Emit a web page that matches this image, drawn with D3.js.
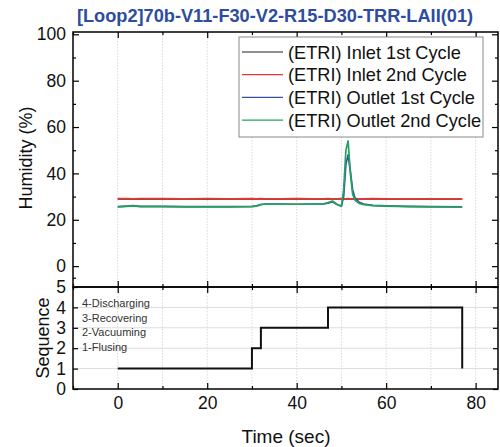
<!DOCTYPE html>
<html>
<head>
<meta charset="utf-8">
<script src="https://cdn.jsdelivr.net/npm/d3@7"></script>
<style>
  body { margin: 0; background: #fff; }
  svg { display: block; font-family: "Liberation Sans", Arial, sans-serif; }
</style>
</head>
<body>
<div class="chart"></div>
<script>
// ---- data ----
const time = [0, 2, 3.5, 5, 10, 15, 20, 25, 30, 31, 32, 33, 36, 40, 44, 46, 47, 48, 49, 50, 50.5, 51, 51.5, 52, 52.5, 53, 54, 55, 57, 60, 65, 70, 77];
const inlet1 = [29.0, 29.0, 29.0, 29.0, 29.0, 29.0, 29.0, 29.0, 29.0, 29.0, 29.0, 29.0, 29.0, 29.0, 29.0, 29.0, 29.0, 29.0, 29.0, 29.0, 29.0, 29.0, 29.0, 29.0, 29.0, 29.0, 29.0, 29.0, 29.0, 29.0, 29.0, 29.0, 29.0];
const inlet2 = [29.1, 29.1, 29.0, 29.1, 29.1, 29.0, 29.1, 29.0, 29.1, 29.0, 29.1, 29.0, 29.0, 29.1, 29.0, 29.0, 29.1, 29.0, 29.0, 29.1, 29.0, 29.0, 29.1, 29.0, 29.0, 29.1, 29.0, 29.0, 29.1, 29.0, 29.0, 29.0, 29.0];
const outlet1 = [25.7, 25.9, 26.1, 25.8, 25.8, 25.7, 25.7, 25.7, 25.8, 26.0, 26.6, 26.8, 26.8, 26.7, 26.8, 26.8, 27.2, 27.8, 26.6, 25.9, 30.0, 44.0, 48.0, 41.0, 33.0, 29.5, 27.5, 26.8, 26.2, 26.0, 25.8, 25.7, 25.6];
const outlet2 = [25.6, 25.8, 26.0, 25.7, 25.7, 25.6, 25.6, 25.6, 25.7, 25.9, 26.5, 26.8, 26.7, 26.7, 26.8, 26.9, 27.4, 28.1, 26.7, 25.8, 33.0, 50.0, 54.0, 40.0, 31.0, 28.5, 27.0, 26.5, 26.1, 25.9, 25.7, 25.6, 25.5];

const seqTime = [0, 30, 30, 32, 32, 47, 47, 77, 77];
const seqValue = [1, 1, 2, 2, 3, 3, 4, 4, 1];
const seqNames = ['4-Discharging', '3-Recovering', '2-Vacuuming', '1-Flusing'];

const seriesNames = ['(ETRI) Inlet 1st Cycle', '(ETRI) Inlet 2nd Cycle', '(ETRI) Outlet 1st Cycle', '(ETRI) Outlet 2nd Cycle'];
const seriesColors = ['#222222', '#e8372f', '#3a4fa3', '#25a35e'];

const xMajor = [0, 20, 40, 60, 80];
const xMinor = [-10, 10, 30, 50, 70];
const yMajor = [0, 20, 40, 60, 80, 100];
const seqTicks = [0, 1, 2, 3, 4, 5];

(() => {
  const width = 500,
    height = 447,
    left = 73,
    right = 498,
    top = 32,
    mid = 287,
    bottom = 389;

  const svg = d3.select('.chart')
    .append('svg')
    .attr('width', width)
    .attr('height', height);

  const x = d3.scaleLinear().domain([-10, 85]).range([left, right]);
  const y = d3.scaleLinear().domain([-9, 101]).range([mid, top]);
  const ys = d3.scaleLinear().domain([0, 5]).range([bottom, mid]);

  // grid
  const grid = svg.append('g');
  grid.selectAll('.vgrid')
    .data(xMajor.concat(xMinor).filter(d => d > -10))
    .enter()
    .append('line')
    .attr('x1', d => x(d)).attr('x2', d => x(d))
    .attr('y1', top).attr('y2', bottom)
    .attr('stroke', '#d8d8d8')
    .attr('stroke-dasharray', '1.5,1.5')
    .attr('stroke-width', 1);
  grid.selectAll('.hgrid')
    .data([1, 2, 3, 4])
    .enter()
    .append('line')
    .attr('x1', left).attr('x2', right)
    .attr('y1', d => ys(d)).attr('y2', d => ys(d))
    .attr('stroke', '#dcdcdc')
    .attr('stroke-width', 1);

  // humidity lines
  const ySets = [inlet1, inlet2, outlet1, outlet2];
  const line = d3.line()
    .x(d => x(d[0]))
    .y(d => y(d[1]));
  ySets.forEach((vals, i) => {
    svg.append('path')
      .datum(time.map((t, j) => [t, vals[j]]))
      .attr('d', line)
      .attr('fill', 'none')
      .attr('stroke', seriesColors[i])
      .attr('stroke-width', 1.7)
      .attr('stroke-linejoin', 'round');
  });

  // sequence step line
  svg.append('path')
    .datum(seqTime.map((t, j) => [t, seqValue[j]]))
    .attr('d', d3.line().x(d => x(d[0])).y(d => ys(d[1])))
    .attr('fill', 'none')
    .attr('stroke', '#111')
    .attr('stroke-width', 2);

  // axes (ticks inward)
  const styleAxis = (g, fs) => {
    g.select('.domain').remove();
    g.selectAll('line').attr('stroke', '#000').attr('stroke-width', 1.2);
    g.selectAll('text').attr('font-size', fs).attr('fill', '#111')
      .attr('font-family', '"Liberation Sans", Arial, sans-serif');
  };
  const put = (axis, tx, ty, fs) => {
    const g = svg.append('g').attr('transform', `translate(${tx},${ty})`).call(axis);
    styleAxis(g, fs || 17.5);
    return g;
  };

  // top panel
  put(d3.axisLeft(y).tickValues(yMajor).tickSize(-6).tickPadding(7), left, 0);
  put(d3.axisLeft(y).tickValues([-5, 10, 30, 50, 70, 90]).tickSize(-3).tickFormat(''), left, 0);
  put(d3.axisRight(y).tickValues(yMajor).tickSize(-6).tickFormat(''), right, 0);
  put(d3.axisRight(y).tickValues([-5, 10, 30, 50, 70, 90]).tickSize(-3).tickFormat(''), right, 0);
  put(d3.axisTop(x).tickValues(xMajor).tickSize(-6).tickFormat(''), 0, top);
  put(d3.axisTop(x).tickValues(xMinor).tickSize(-3).tickFormat(''), 0, top);
  put(d3.axisBottom(x).tickValues(xMajor).tickSize(-6).tickFormat(''), 0, mid);
  put(d3.axisBottom(x).tickValues(xMinor).tickSize(-3).tickFormat(''), 0, mid);

  // bottom panel
  put(d3.axisLeft(ys).tickValues(seqTicks).tickSize(-5).tickPadding(7).tickFormat(d3.format('d')), left, 0);
  put(d3.axisRight(ys).tickValues(seqTicks).tickSize(-5).tickFormat(''), right, 0);
  put(d3.axisTop(x).tickValues(xMajor).tickSize(-6).tickFormat(''), 0, mid);
  put(d3.axisTop(x).tickValues(xMinor).tickSize(-3).tickFormat(''), 0, mid);
  put(d3.axisBottom(x).tickValues(xMajor).tickSize(-6).tickPadding(8), 0, bottom);
  put(d3.axisBottom(x).tickValues(xMinor).tickSize(-3).tickFormat(''), 0, bottom);

  // frames
  [[top, mid], [mid, bottom]].forEach(([a, b]) => {
    svg.append('rect')
      .attr('x', left).attr('y', a)
      .attr('width', right - left).attr('height', b - a)
      .attr('fill', 'none')
      .attr('stroke', '#000')
      .attr('stroke-width', 1.5);
  });

  // sequence names
  svg.selectAll('.seqname')
    .data(seqNames)
    .enter()
    .append('text')
    .attr('x', 82)
    .attr('y', (d, i) => 307 + i * 14.5)
    .attr('font-size', 11)
    .attr('fill', '#333')
    .text(d => d);

  // legend
  const lg = svg.append('g');
  lg.append('rect')
    .attr('x', 239).attr('y', 37)
    .attr('width', 244).attr('height', 100)
    .attr('fill', '#fff')
    .attr('stroke', '#8a8a8a')
    .attr('stroke-width', 1);
  seriesNames.forEach((name, i) => {
    const ly = 52 + i * 22.7;
    lg.append('line')
      .attr('x1', 242).attr('x2', 283)
      .attr('y1', ly).attr('y2', ly)
      .attr('stroke', seriesColors[i])
      .attr('stroke-width', 1.2);
    lg.append('text')
      .attr('x', 288).attr('y', ly + 6.5)
      .attr('font-size', 18.2)
      .attr('fill', '#111')
      .text(name);
  });

  // title and labels
  svg.append('text')
    .attr('x', 275).attr('y', 22)
    .attr('text-anchor', 'middle')
    .attr('font-size', 18.2)
    .attr('font-weight', 'bold')
    .attr('fill', '#2d4da0')
    .text('[Loop2]70b-V11-F30-V2-R15-D30-TRR-LAII(01)');

  svg.append('text')
    .attr('x', 286).attr('y', 443)
    .attr('text-anchor', 'middle')
    .attr('font-size', 19)
    .attr('fill', '#111')
    .text('Time (sec)');

  svg.append('text')
    .attr('transform', 'translate(32,158) rotate(-90)')
    .attr('text-anchor', 'middle')
    .attr('font-size', 18)
    .attr('fill', '#111')
    .text('Humidity (%)');

  svg.append('text')
    .attr('transform', 'translate(49,338) rotate(-90)')
    .attr('text-anchor', 'middle')
    .attr('font-size', 18)
    .attr('fill', '#111')
    .text('Sequence');
})();
</script>
</body>
</html>
